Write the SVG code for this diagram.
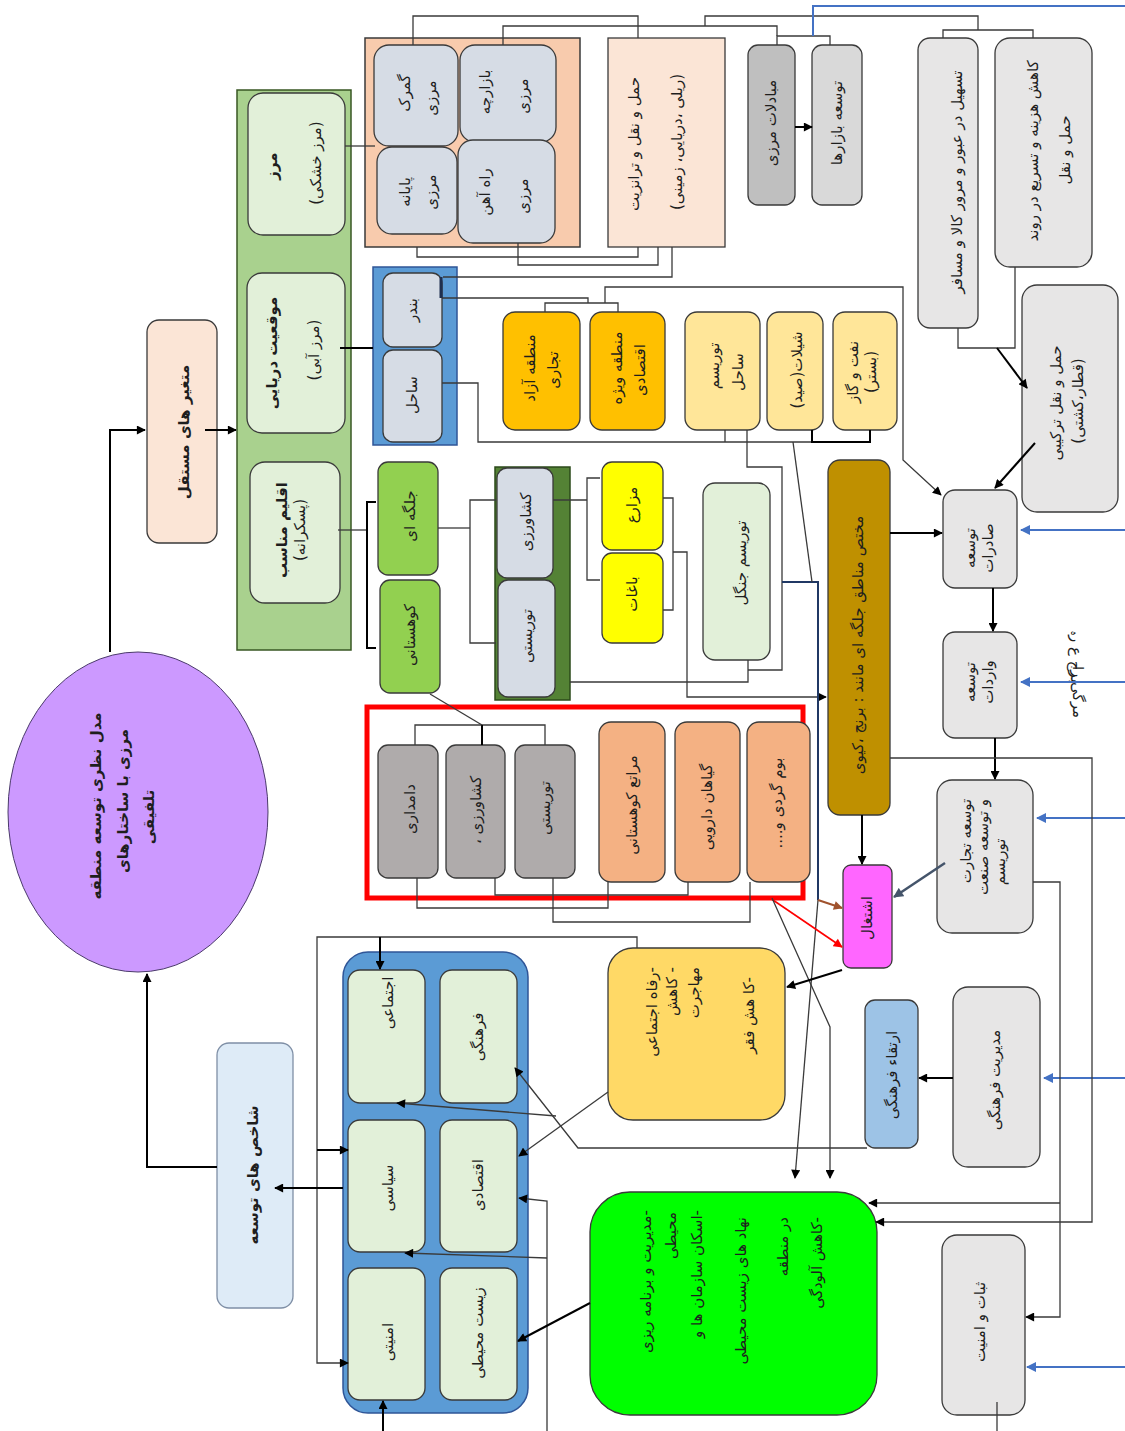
<svg xmlns="http://www.w3.org/2000/svg" width="1125" height="1431" viewBox="0 0 1125 1431">
<defs>
<marker id="ar" viewBox="0 0 10 10" refX="9" refY="5" markerWidth="10" markerHeight="9" markerUnits="userSpaceOnUse" orient="auto"><path d="M0,0 L10,5 L0,10 z" fill="#000"/></marker>
<marker id="arb" viewBox="0 0 10 10" refX="9" refY="5" markerWidth="11" markerHeight="10" markerUnits="userSpaceOnUse" orient="auto"><path d="M0,0 L10,5 L0,10 z" fill="#4472C4"/></marker>
<marker id="arr" viewBox="0 0 10 10" refX="9" refY="5" markerWidth="10" markerHeight="9" markerUnits="userSpaceOnUse" orient="auto"><path d="M0,0 L10,5 L0,10 z" fill="#FF0000"/></marker>
<marker id="arw" viewBox="0 0 10 10" refX="9" refY="5" markerWidth="10" markerHeight="9" markerUnits="userSpaceOnUse" orient="auto"><path d="M0,0 L10,5 L0,10 z" fill="#A0522D"/></marker>
<marker id="arg" viewBox="0 0 10 10" refX="9" refY="5" markerWidth="11" markerHeight="10" markerUnits="userSpaceOnUse" orient="auto"><path d="M0,0 L10,5 L0,10 z" fill="#44546A"/></marker>
</defs>
<style>
.t{font-family:'DejaVu Sans','Noto Sans',sans-serif;font-size:15px;fill:#1e1e1e;text-anchor:middle;dominant-baseline:central}
.b{font-weight:bold}
.e{text-anchor:end}
.bx{stroke:#3a3a3a;stroke-width:1.3}
.c{fill:none;stroke:#3a3a3a;stroke-width:1.3}
.k{fill:none;stroke:#000;stroke-width:2}
.bl{fill:none;stroke:#4472C4;stroke-width:2}
</style>
<rect width="1125" height="1431" fill="#fff"/>

<g id="n-ellipse"><ellipse cx="138" cy="812" rx="130" ry="160" fill="#CC99FF" stroke="#4b3a6b" stroke-width="1"/>
<text class="t b" font-size="18" transform="translate(96,806) rotate(-90)">مدل نظری توسعه منطقه</text>
<text class="t b" font-size="18" transform="translate(123,801) rotate(-90)">مرزی  با ساختارهای</text>
<text class="t b" font-size="18" transform="translate(149,817) rotate(-90)">تلفیقی</text></g>

<g id="n-motaghayer"><rect class="bx" x="147" y="320" width="70" height="223" rx="12" fill="#FBE5D6"/>
<text class="t b" font-size="14" transform="translate(184,432) rotate(-90)">متغیر های مستقل</text></g>

<g id="n-greencol"><rect x="237" y="90" width="114" height="560" fill="#A9D18E" stroke="#385723" stroke-width="1.5"/></g>
<g id="n-marz"><rect class="bx" x="248" y="93" width="97" height="142" rx="15" fill="#E2F0D9"/>
<text class="t b" font-size="15" transform="translate(272,166) rotate(-90)">مرز</text>
<text class="t" transform="translate(316,163) rotate(-90)">(مرز خشکی)</text></g>
<g id="n-mowgheiat"><rect class="bx" x="247" y="273" width="98" height="160" rx="15" fill="#E2F0D9"/>
<text class="t b" font-size="15" transform="translate(272,353) rotate(-90)">موقعیت دریایی</text>
<text class="t" transform="translate(314,350) rotate(-90)">(مرز آبی)</text></g>
<g id="n-eghlim"><rect class="bx" x="250" y="462" width="90" height="141" rx="15" fill="#E2F0D9"/>
<text class="t b" font-size="13" transform="translate(282,530) rotate(-90)">اقلیم مناسب</text>
<text class="t" font-size="13" transform="translate(300,530) rotate(-90)">(پسکرانه)</text></g>

<g id="n-orange"><rect x="365" y="38" width="215" height="209" fill="#F8CBAD" stroke="#3a3a3a" stroke-width="1.5"/></g>
<g id="n-gomrok"><rect class="bx" x="374" y="45" width="84" height="101" rx="15" fill="#D6DCE5"/>
<text class="t" transform="translate(405,93) rotate(-90)">گمرک</text>
<text class="t" transform="translate(431,98) rotate(-90)">مرزی</text></g>
<g id="n-bazarche"><rect class="bx" x="460" y="45" width="96" height="97" rx="15" fill="#D6DCE5"/>
<text class="t" transform="translate(485,92) rotate(-90)">بازارچه</text>
<text class="t" transform="translate(523,96) rotate(-90)">مرزی</text></g>
<g id="n-payane"><rect class="bx" x="377" y="147" width="80" height="87" rx="15" fill="#D6DCE5"/>
<text class="t" transform="translate(405,192) rotate(-90)">پایانه</text>
<text class="t" transform="translate(431,192) rotate(-90)">مرزی</text></g>
<g id="n-rahahan"><rect class="bx" x="458" y="140" width="97" height="103" rx="15" fill="#D6DCE5"/>
<text class="t" transform="translate(485,192) rotate(-90)">راه آهن</text>
<text class="t" transform="translate(523,196) rotate(-90)">مرزی</text></g>

<g id="n-haml"><rect class="bx" x="608" y="38" width="117" height="209" fill="#FBE5D6"/>
<text class="t" font-size="16" transform="translate(634,144) rotate(-90)">حمل و نقل و ترانزیت</text>
<text class="t" font-size="16" transform="translate(677,142) rotate(-90)">(ریلی ،دریایی، زمینی)</text></g>

<g id="n-mobadelat"><rect class="bx" x="748" y="45" width="47" height="160" rx="10" fill="#BFBFBF"/>
<text class="t" font-size="15.5" transform="translate(771,123) rotate(-90)">مبادلات مرزی</text></g>
<g id="n-bazarha"><rect class="bx" x="812" y="45" width="50" height="160" rx="10" fill="#D9D9D9"/>
<text class="t" font-size="15.5" transform="translate(837,123) rotate(-90)">توسعه بازارها</text></g>
<g id="n-tashil"><rect class="bx" x="918" y="38" width="60" height="290" rx="12" fill="#E7E6E6"/>
<text class="t" transform="translate(957,182) rotate(-90)">تسهیل در عبور و مرور کالا و مسافر</text></g>
<g id="n-kahesh"><rect class="bx" x="995" y="38" width="97" height="229" rx="15" fill="#E7E6E6"/>
<text class="t" transform="translate(1033,151) rotate(-90)">کاهش هزینه و تسریع در روند</text>
<text class="t" transform="translate(1065,150) rotate(-90)">حمل و نقل</text></g>
<g id="n-tarkibi"><rect class="bx" x="1022" y="285" width="96" height="227" rx="15" fill="#E7E6E6"/>
<text class="t" font-size="16" transform="translate(1056,403) rotate(-90)">حمل و نقل ترکیبی</text>
<text class="t" font-size="16" transform="translate(1078,401) rotate(-90)">(قطار،کشتی)</text></g>

<g id="n-bluebox"><rect x="373" y="267" width="84" height="178" fill="#5B9BD5" stroke="#2F5597" stroke-width="1.5"/></g>
<g id="n-bandar"><rect class="bx" x="383" y="273" width="59" height="74" rx="10" fill="#D6DCE5"/>
<text class="t" font-size="16" transform="translate(412,310) rotate(-90)">بندر</text></g>
<g id="n-sahel"><rect class="bx" x="383" y="350" width="59" height="92" rx="10" fill="#D6DCE5"/>
<text class="t" font-size="17" transform="translate(412,395) rotate(-90)">ساحل</text></g>

<g id="n-azad"><rect class="bx" x="503" y="312" width="77" height="118" rx="12" fill="#FFC000"/>
<text class="t" font-size="14" transform="translate(530,368) rotate(-90)">منطقه آزاد</text>
<text class="t" font-size="14" transform="translate(553,370) rotate(-90)">تجاری</text></g>
<g id="n-vijeh"><rect class="bx" x="590" y="312" width="75" height="118" rx="12" fill="#FFC000"/>
<text class="t" font-size="14" transform="translate(617,368) rotate(-90)">منطقه ویژه</text>
<text class="t" font-size="14" transform="translate(640,370) rotate(-90)">اقتصادی</text></g>
<g id="n-tsahel"><rect class="bx" x="685" y="312" width="75" height="118" rx="12" fill="#FFE699"/>
<text class="t" font-size="17" transform="translate(714,366) rotate(-90)">توریسم</text>
<text class="t" font-size="17" transform="translate(738,372) rotate(-90)">ساحل</text></g>
<g id="n-shilat"><rect class="bx" x="767" y="312" width="56" height="118" rx="12" fill="#FFE699"/>
<text class="t" font-size="17" transform="translate(797,370) rotate(-90)">شیلات(صید)</text></g>
<g id="n-naft"><rect class="bx" x="833" y="312" width="64" height="118" rx="12" fill="#FFE699"/>
<text class="t" font-size="17" transform="translate(853,372) rotate(-90)">نفت و گاز</text>
<text class="t" font-size="14" transform="translate(871,372) rotate(-90)">(بستر)</text></g>

<g id="n-jolge"><rect class="bx" x="378" y="462" width="60" height="113" rx="10" fill="#92D050"/>
<text class="t" font-size="19" transform="translate(410,516) rotate(-90)">جلگه ای</text></g>
<g id="n-kuhestani"><rect class="bx" x="380" y="580" width="60" height="113" rx="10" fill="#92D050"/>
<text class="t" font-size="18" transform="translate(410,635) rotate(-90)">کوهستانی</text></g>
<g id="n-darkgreen"><rect x="495" y="467" width="75" height="233" fill="#548235" stroke="#2b4a1a" stroke-width="1.5"/></g>
<g id="n-keshavarzi1"><rect class="bx" x="497" y="468" width="56" height="110" rx="10" fill="#D6DCE5"/>
<text class="t" font-size="18" transform="translate(526,522) rotate(-90)">کشاورزی</text></g>
<g id="n-touristi1"><rect class="bx" x="498" y="580" width="57" height="117" rx="10" fill="#D6DCE5"/>
<text class="t" font-size="17" transform="translate(527,636) rotate(-90)">توریستی</text></g>
<g id="n-mazare"><rect class="bx" x="602" y="462" width="61" height="88" rx="10" fill="#FFFF00"/>
<text class="t" font-size="19" transform="translate(632,505) rotate(-90)">مزارع</text></g>
<g id="n-baghat"><rect class="bx" x="602" y="553" width="61" height="90" rx="10" fill="#FFFF00"/>
<text class="t" font-size="18" transform="translate(632,594) rotate(-90)">باغات</text></g>
<g id="n-jangal"><rect class="bx" x="703" y="483" width="67" height="177" rx="12" fill="#E2F0D9"/>
<text class="t" font-size="19" transform="translate(741,563) rotate(-90)">توریسم جنگل</text></g>

<g id="n-mokhtas"><rect class="bx" x="828" y="460" width="62" height="355" rx="12" fill="#BF9000"/>
<text class="t" font-size="16.5" transform="translate(858,645) rotate(-90)">مختص مناطق جلگه ای مانند : برنج ،کیوی</text></g>

<g id="n-saderat"><rect class="bx" x="943" y="490" width="74" height="98" rx="12" fill="#E7E6E6"/>
<text class="t" font-size="13" transform="translate(970,548) rotate(-90)">توسعه</text>
<text class="t" font-size="13" transform="translate(988,548) rotate(-90)">صادرات</text></g>
<g id="n-varedat"><rect class="bx" x="943" y="632" width="74" height="106" rx="12" fill="#E7E6E6"/>
<text class="t" font-size="13" transform="translate(970,682) rotate(-90)">توسعه</text>
<text class="t" font-size="13" transform="translate(988,682) rotate(-90)">واردات</text></g>
<g id="n-tejarat"><rect class="bx" x="937" y="780" width="96" height="153" rx="15" fill="#E7E6E6"/>
<text class="t" font-size="13" transform="translate(966,841) rotate(-90)">توسعه تجارت</text>
<text class="t" font-size="13" transform="translate(983,847) rotate(-90)">و توسعه صنعت</text>
<text class="t" font-size="13" transform="translate(1000,862) rotate(-90)">توریسم</text></g>
<g id="n-note"><text class="t" font-size="10" fill="#333" transform="translate(1076,657) rotate(90)">ﺑﺮﺝ ﻉ ﺭﮦ</text>
<text class="t" font-size="10" fill="#333" transform="translate(1078,692) rotate(90)">ﻣﺮﮔﯽ ﺭﺍ</text></g>

<g id="n-redbox"><rect x="367" y="707" width="436" height="191" fill="none" stroke="#FF0000" stroke-width="5"/></g>
<g id="n-damdari"><rect class="bx" x="378" y="745" width="60" height="133" rx="10" fill="#AFABAB"/>
<text class="t" font-size="16" transform="translate(410,809) rotate(-90)">دامداری</text></g>
<g id="n-keshavarzi2"><rect class="bx" x="446" y="745" width="59" height="133" rx="10" fill="#AFABAB"/>
<text class="t" font-size="16" transform="translate(476,810) rotate(-90)">کشاورزی ،&#x200F;</text></g>
<g id="n-touristi2"><rect class="bx" x="515" y="745" width="60" height="133" rx="10" fill="#AFABAB"/>
<text class="t" font-size="16" transform="translate(545,808) rotate(-90)">توریستی</text></g>
<g id="n-marate"><rect class="bx" x="599" y="722" width="66" height="160" rx="12" fill="#F4B183"/>
<text class="t" font-size="18" transform="translate(632,805) rotate(-90)">مراتع کوهستانی</text></g>
<g id="n-giahan"><rect class="bx" x="675" y="722" width="65" height="160" rx="12" fill="#F4B183"/>
<text class="t" font-size="18" transform="translate(707,807) rotate(-90)">گیاهان دارویی</text></g>
<g id="n-boom"><rect class="bx" x="747" y="722" width="63" height="160" rx="12" fill="#F4B183"/>
<text class="t" font-size="18" transform="translate(777,803) rotate(-90)">بوم گردی و....&#x200F;</text></g>

<g id="n-eshteghal"><rect class="bx" x="843" y="865" width="49" height="103" rx="8" fill="#FF66FF"/>
<text class="t" font-size="15.5" transform="translate(867,918) rotate(-90)">اشتغال</text></g>
<g id="n-refah"><rect class="bx" x="608" y="948" width="177" height="172" rx="25" fill="#FFD966"/>
<text class="t e" transform="translate(652,967) rotate(-90)">&#x200F;-رفاه اجتماعی</text>
<text class="t e" transform="translate(672,967) rotate(-90)">&#x200F;- کاهش</text>
<text class="t e" transform="translate(694,967) rotate(-90)">مهاجرت</text>
<text class="t e" transform="translate(749,977) rotate(-90)">&#x200F;-کا هش فقر</text></g>
<g id="n-ertegha"><rect class="bx" x="865" y="1000" width="53" height="148" rx="10" fill="#9DC3E6"/>
<text class="t" font-size="16.5" transform="translate(892,1075) rotate(-90)">ارتقاء فرهنگی</text></g>
<g id="n-modiriat"><rect class="bx" x="953" y="987" width="87" height="180" rx="15" fill="#E7E6E6"/>
<text class="t" font-size="17" transform="translate(995,1080) rotate(-90)">مدیریت فرهنگی</text></g>

<g id="n-dims"><rect x="343" y="952" width="185" height="461" rx="25" fill="#5B9BD5" stroke="#2F5597" stroke-width="1.5"/></g>
<g id="n-ejtemaei"><rect class="bx" x="348" y="970" width="77" height="133" rx="12" fill="#E2F0D9"/>
<text class="t" transform="translate(388,1003) rotate(-90)">اجتماعی</text></g>
<g id="n-farhangi"><rect class="bx" x="440" y="970" width="77" height="133" rx="12" fill="#E2F0D9"/>
<text class="t" transform="translate(478,1037) rotate(-90)">فرهنگی</text></g>
<g id="n-siasi"><rect class="bx" x="348" y="1120" width="77" height="132" rx="12" fill="#E2F0D9"/>
<text class="t" transform="translate(388,1188) rotate(-90)">سیاسی</text></g>
<g id="n-eghtesadi"><rect class="bx" x="440" y="1120" width="77" height="132" rx="12" fill="#E2F0D9"/>
<text class="t" transform="translate(478,1185) rotate(-90)">اقتصادی</text></g>
<g id="n-amniati"><rect class="bx" x="348" y="1268" width="77" height="132" rx="12" fill="#E2F0D9"/>
<text class="t" transform="translate(388,1342) rotate(-90)">امنیتی</text></g>
<g id="n-zist"><rect class="bx" x="440" y="1268" width="77" height="132" rx="12" fill="#E2F0D9"/>
<text class="t" transform="translate(478,1333) rotate(-90)">زیست محیطی</text></g>

<g id="n-shakhes"><rect x="217" y="1043" width="76" height="265" rx="12" fill="#DEEBF7" stroke="#7f8fa6" stroke-width="1.3"/>
<text class="t b" font-size="15" transform="translate(253,1175) rotate(-90)">شاخص های توسعه</text></g>

<g id="n-mohiti"><rect class="bx" x="590" y="1192" width="287" height="223" rx="40" fill="#00FF00"/>
<text class="t e" font-size="17" transform="translate(646,1210) rotate(-90)">&#x200F;-مدیریت و برنامه ریزی</text>
<text class="t e" font-size="17" transform="translate(671,1212) rotate(-90)">محیطی</text>
<text class="t e" font-size="17" transform="translate(697,1210) rotate(-90)">&#x200F;-اسکان سازمان ها و</text>
<text class="t e" font-size="17" transform="translate(741,1217) rotate(-90)">نهاد های زیست محیطی</text>
<text class="t e" font-size="17" transform="translate(783,1217) rotate(-90)">در منطقه</text>
<text class="t e" font-size="17" transform="translate(817,1217) rotate(-90)">&#x200F;-کاهش آلودگی</text></g>

<g id="n-sobat"><rect class="bx" x="942" y="1235" width="83" height="180" rx="15" fill="#E7E6E6"/>
<text class="t" font-size="16" transform="translate(980,1322) rotate(-90)">ثبات و امنیت</text></g>

<g id="connectors">
<path class="k" d="M110,652 V430 H145" marker-end="url(#ar)"/>
<path class="k" d="M205,430 H236" marker-end="url(#ar)"/>
<path class="c" d="M345,146 H375"/>
<path class="k" d="M340,348 H373"/>
<path class="c" d="M338,530 H367"/>
<path class="k" d="M376,502 H367 V648 H376"/>
<path class="c" d="M438,528 H470"/>
<path class="c" d="M496,500 H470 V643 H496"/>
<path class="c" d="M553,500 H587"/>
<path class="c" d="M600,478 H587 V580 H600"/>
<path class="c" d="M663,498 H673 V610 H663"/>
<path class="c" d="M673,552 H687 V697 H826" marker-end="url(#ar)"/>
<path class="c" d="M570,682 H748 V660"/>
<path class="c" d="M747,430 V467 H782 V670 H748"/>
<path fill="none" stroke="#203864" stroke-width="2" d="M782,582 H818 V900"/>
<path class="c" d="M818,900 L795,1178" marker-end="url(#ar)"/>
<path class="c" d="M793,442 L812,582"/>
<path class="c" d="M442,383 H478 V442 H812"/>
<path class="k" d="M812,430 V442 H870 V430"/>
<path class="c" d="M725,442 V430"/>
<path class="c" d="M442,298 H588 V303"/>
<path class="c" d="M545,312 V303 H618 V312"/>
<path class="c" d="M605,303 V287 H903 V460 L941,495" marker-end="url(#ar)"/>
<path class="c" d="M672,247 V277 H443"/>
<path fill="none" stroke="#1f2f4f" stroke-width="3" d="M441,277 V298"/>
<path class="c" d="M413,45 V16 H638 V38"/>
<path class="c" d="M503,45 V26 H777 V36"/>
<path class="c" d="M777,45 V36 H830 V45"/>
<path class="c" d="M705,26 V16 H978 V30"/>
<path class="c" d="M943,38 V30 H1033 V38"/>
<path class="bl" d="M813,36 V6 H1125"/>
<path class="c" d="M417,247 V257 H638 V247"/>
<path class="c" d="M518,243 V265 H658 V247"/>
<path class="c" d="M958,328 V348 H1015 V267"/>
<path class="k" d="M997,348 L1027,388" marker-end="url(#ar)"/>
<path class="k" d="M1035,443 L995,488" marker-end="url(#ar)"/>
<path class="k" d="M795,127 H812" marker-end="url(#ar)"/>
<path class="k" d="M890,533 H942" marker-end="url(#ar)"/>
<path class="bl" d="M1125,530 H1021" marker-end="url(#arb)"/>
<path class="bl" d="M1125,682 H1021" marker-end="url(#arb)"/>
<path class="bl" d="M1125,818 H1037" marker-end="url(#arb)"/>
<path class="bl" d="M1125,1078 H1044" marker-end="url(#arb)"/>
<path class="bl" d="M1125,1367 H1027" marker-end="url(#arb)"/>
<path class="k" d="M993,588 V631" marker-end="url(#ar)"/>
<path class="k" d="M995,738 V779" marker-end="url(#ar)"/>
<path class="k" d="M862,815 V864" marker-end="url(#ar)"/>
<path class="c" d="M890,758 H1092 V1222 H876" marker-end="url(#ar)"/>
<path class="c" d="M1033,882 H1060 V1317 H1026" marker-end="url(#ar)"/>
<path class="c" d="M1060,1203 H869" marker-end="url(#ar)"/>
<path fill="none" stroke="#44546A" stroke-width="2.5" d="M945,863 L894,897" marker-end="url(#arg)"/>
<path fill="none" stroke="#A0522D" stroke-width="2" d="M818,900 L842,908" marker-end="url(#arw)"/>
<path fill="none" stroke="#FF0000" stroke-width="1.6" d="M770,898 L842,947" marker-end="url(#arr)"/>
<path class="c" d="M772,898 L830,1027 V1178" marker-end="url(#ar)"/>
<path class="k" stroke-width="2.5" d="M842,970 L787,987" marker-end="url(#ar)"/>
<path class="k" d="M953,1078 H919" marker-end="url(#ar)"/>
<path class="c" d="M867,1148 H578 L515,1068" marker-end="url(#ar)"/>
<path class="c" d="M608,1092 L519,1156" marker-end="url(#ar)"/>
<path class="c" d="M556,1116 L397,1103" marker-end="url(#ar)"/>
<path class="c" d="M637,948 V937 H317 V1363 H348" marker-end="url(#ar)"/>
<path class="k" d="M317,1150 H348" marker-end="url(#ar)"/>
<path class="k" d="M380,937 V969" marker-end="url(#ar)"/>
<path class="c" d="M547,1431 V1201 L519,1198" marker-end="url(#ar)"/>
<path class="c" d="M547,1258 L405,1253" marker-end="url(#ar)"/>
<path class="k" stroke-width="2.5" d="M590,1303 L518,1341" marker-end="url(#ar)"/>
<path class="k" d="M383,1431 V1401" marker-end="url(#ar)"/>
<path class="k" d="M343,1188 H275" marker-end="url(#ar)"/>
<path class="k" stroke-width="2.5" d="M217,1167 H147 V974" marker-end="url(#ar)"/>
<path class="c" d="M997,1402 V1431"/>
<path class="c" d="M415,745 V725 H545 V745"/>
<path class="k" d="M482,725 V745"/>
<path class="c" d="M482,725 L430,694"/>
<path class="c" d="M417,878 V908 H608 V882"/>
<path class="c" d="M495,878 V895 H688 V882"/>
<path class="c" d="M553,878 V922 H750 V882"/>
</g>
</svg>
